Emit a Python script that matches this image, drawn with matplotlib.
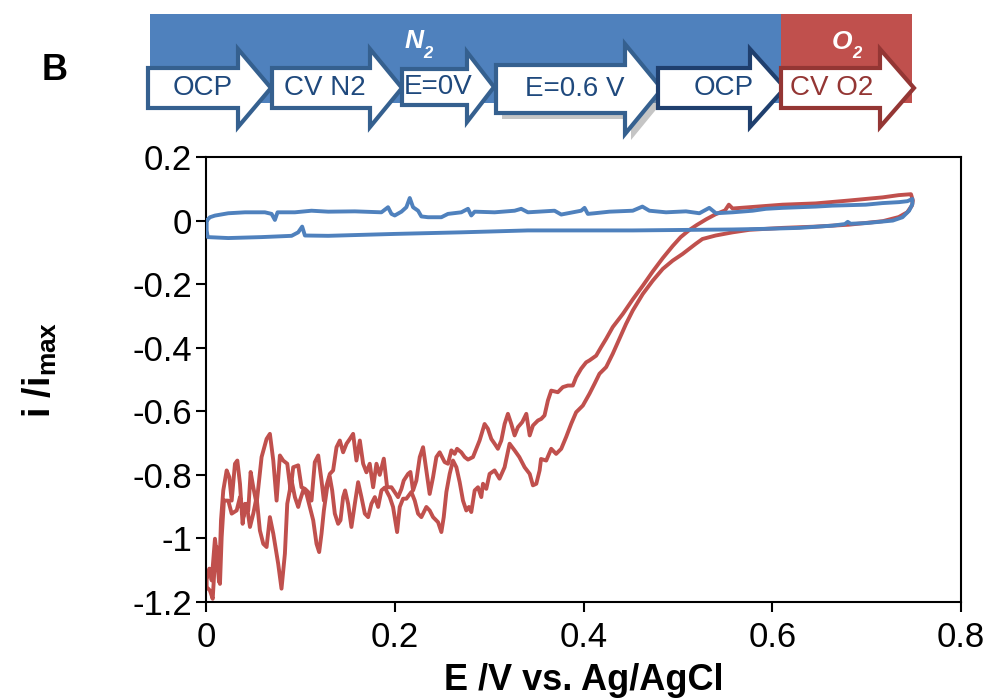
import matplotlib
matplotlib.use("Agg")
import matplotlib.pyplot as plt
from matplotlib.patches import Polygon, Rectangle
import numpy as np

plt.rcParams['font.family'] = ['Liberation Sans', 'DejaVu Sans']
plt.rcParams['axes.unicode_minus'] = False
plt.rcParams['mathtext.fontset'] = 'custom'
plt.rcParams['mathtext.rm'] = 'Liberation Sans'
plt.rcParams['mathtext.bf'] = 'Liberation Sans:bold'
plt.rcParams['mathtext.it'] = 'Liberation Sans:italic'

# ---- data (E in V vs Ag/AgCl, i / i_max) ----
# O2 CV, forward branch (left -> right)
red_fwd_E = [0.0007, 0.0035, 0.006, 0.0095, 0.012, 0.0138, 0.0159, 0.0183, 0.0219, 0.0247,
             0.0272, 0.0307, 0.0332, 0.036, 0.0388, 0.0413, 0.0448, 0.0473, 0.0501, 0.0536,
             0.0589, 0.0642, 0.0677, 0.0713, 0.0748, 0.0783, 0.0818, 0.0861, 0.0896, 0.0924,
             0.0977, 0.1012, 0.1048, 0.1083, 0.1118, 0.1153, 0.1189, 0.1224, 0.1249, 0.1277,
             0.1312, 0.1347, 0.1383, 0.1418, 0.1453, 0.1489, 0.1524, 0.1559, 0.1594, 0.163,
             0.1665, 0.170, 0.1735, 0.1771, 0.1806, 0.1841, 0.1884, 0.1919, 0.1965, 0.2035,
             0.2071, 0.2095, 0.2141, 0.2166, 0.2194, 0.2229, 0.2265, 0.23, 0.2342, 0.237,
             0.2406, 0.2441, 0.2476, 0.2529, 0.2564, 0.26, 0.2635, 0.266, 0.2705, 0.2741,
             0.2776, 0.2829, 0.2864, 0.2899, 0.2952, 0.2987, 0.3023, 0.3058, 0.3093, 0.3129,
             0.3164, 0.3199, 0.3235, 0.327, 0.3305, 0.3351, 0.3394, 0.343, 0.3464, 0.3517,
             0.3552, 0.3587, 0.3623, 0.3658, 0.3728, 0.3781, 0.3834, 0.3887, 0.3922, 0.3975,
             0.4028, 0.4063, 0.4134, 0.4187, 0.424, 0.431, 0.4416, 0.4522, 0.4628, 0.4734,
             0.484, 0.4945, 0.503, 0.512, 0.520, 0.530, 0.540, 0.550, 0.554, 0.558,
             0.576, 0.611, 0.646, 0.681, 0.717, 0.734, 0.747]
red_fwd_i = [-1.122, -1.095, -1.132, -1.001, -1.069, -1.137, -0.943, -0.849, -0.786, -0.807,
             -0.881, -0.765, -0.755, -0.828, -0.954, -0.891, -0.912, -0.791, -0.839, -0.891,
             -0.744, -0.687, -0.671, -0.755, -0.881, -0.739, -0.755, -0.765, -0.849, -0.776,
             -0.770, -0.839, -0.844, -0.854, -0.881, -0.760, -0.739, -0.818, -0.881, -0.834,
             -0.797, -0.786, -0.713, -0.692, -0.729, -0.702, -0.687, -0.671, -0.755, -0.692,
             -0.765, -0.792, -0.765, -0.839, -0.765, -0.800, -0.749, -0.839, -0.839, -0.870,
             -0.844, -0.818, -0.797, -0.791, -0.849, -0.818, -0.744, -0.713, -0.802, -0.860,
             -0.807, -0.744, -0.729, -0.760, -0.765, -0.723, -0.734, -0.718, -0.729, -0.744,
             -0.752, -0.744, -0.718, -0.692, -0.640, -0.655, -0.687, -0.702, -0.718, -0.692,
             -0.640, -0.608, -0.640, -0.676, -0.650, -0.634, -0.608, -0.676, -0.645, -0.629,
             -0.624, -0.613, -0.566, -0.535, -0.540, -0.524, -0.519, -0.519, -0.493, -0.466,
             -0.446, -0.440, -0.425, -0.398, -0.372, -0.335, -0.294, -0.248, -0.205, -0.160,
             -0.118, -0.080, -0.052, -0.030, -0.014, 0.004, 0.020, 0.032, 0.050, 0.038,
             0.042, 0.050, 0.054, 0.063, 0.073, 0.080, 0.083]

# O2 CV, return branch (right -> left)
red_rev_E = [0.749, 0.748, 0.743, 0.734, 0.717, 0.681, 0.646, 0.611, 0.576, 0.558,
             0.540, 0.526, 0.519, 0.505, 0.4945, 0.484, 0.4734, 0.4628, 0.4522, 0.4451,
             0.4381, 0.431, 0.424, 0.4169, 0.4116, 0.4063, 0.3993, 0.3922, 0.387, 0.3816,
             0.3764, 0.371, 0.3658, 0.3605, 0.355, 0.3535, 0.35, 0.3464, 0.343, 0.3376,
             0.332, 0.327, 0.3217, 0.3164, 0.311, 0.3058, 0.3005, 0.297, 0.2935, 0.2917,
             0.2882, 0.2847, 0.2811, 0.2786, 0.2758, 0.2723, 0.2688, 0.2653, 0.2617, 0.2582,
             0.2547, 0.2519, 0.2494, 0.2459, 0.2406, 0.237, 0.2335, 0.2282, 0.2247, 0.2212,
             0.2176, 0.2123, 0.2088, 0.2053, 0.2025, 0.1982, 0.1947, 0.1894, 0.1859, 0.1824,
             0.1789, 0.1753, 0.1718, 0.1683, 0.1647, 0.1612, 0.1577, 0.1541, 0.1506, 0.1474,
             0.1453, 0.1425, 0.1400, 0.1365, 0.1337, 0.1312, 0.1284, 0.1249, 0.1224, 0.1199,
             0.1171, 0.1136, 0.1100, 0.1065, 0.1030, 0.0995, 0.0977, 0.0942, 0.0907, 0.0861,
             0.0836, 0.0800, 0.0765, 0.0713, 0.0677, 0.0642, 0.0607, 0.0571, 0.0536, 0.0501,
             0.0466, 0.0430, 0.0395, 0.0360, 0.0325, 0.0272, 0.0236, 0.0190, 0.0166, 0.0148,
             0.0130, 0.0113, 0.0095, 0.0071, 0.0042, 0.0007]
red_rev_i = [0.063, 0.047, 0.026, 0.011, -0.002, -0.013, -0.019, -0.023, -0.029, -0.037,
             -0.047, -0.058, -0.073, -0.105, -0.126, -0.152, -0.189, -0.231, -0.283, -0.325,
             -0.372, -0.419, -0.461, -0.482, -0.514, -0.545, -0.582, -0.603, -0.639, -0.681,
             -0.718, -0.734, -0.718, -0.755, -0.750, -0.786, -0.828, -0.833, -0.797, -0.776,
             -0.744, -0.723, -0.702, -0.776, -0.812, -0.786, -0.797, -0.844, -0.828, -0.870,
             -0.839, -0.849, -0.917, -0.901, -0.912, -0.881, -0.823, -0.776, -0.755, -0.797,
             -0.854, -0.933, -0.980, -0.949, -0.933, -0.912, -0.901, -0.933, -0.922, -0.881,
             -0.854, -0.875, -0.875, -0.901, -0.980, -0.901, -0.870, -0.840, -0.849, -0.901,
             -0.870, -0.891, -0.933, -0.922, -0.870, -0.823, -0.891, -0.964, -0.891, -0.849,
             -0.870, -0.943, -0.954, -0.922, -0.849, -0.807, -0.839, -0.912, -0.985, -1.043,
             -1.017, -0.943, -0.901, -0.860, -0.849, -0.881, -0.901, -0.870, -0.818, -0.891,
             -1.048, -1.158, -1.080, -0.985, -0.933, -1.027, -1.017, -0.975, -0.870, -0.922,
             -0.964, -0.891, -0.933, -0.870, -0.912, -0.922, -0.881, -0.881, -0.996, -1.143,
             -1.069, -1.027, -1.069, -1.190, -1.164, -1.153]

# N2 CV, forward branch (left -> right)
blue_fwd_E = [0.0007, 0.0042, 0.0095, 0.0236, 0.0413, 0.0624, 0.0695, 0.073, 0.0758, 0.0942,
              0.1118, 0.1295, 0.1577, 0.1859, 0.1929, 0.1965, 0.2, 0.2071, 0.2123, 0.2159,
              0.2194, 0.2247, 0.2282, 0.2353, 0.2494, 0.2564, 0.2705, 0.2776, 0.2811, 0.2847,
              0.3058, 0.327, 0.334, 0.3411, 0.3693, 0.3764, 0.3975, 0.4011, 0.4046, 0.4116,
              0.4275, 0.4522, 0.4624, 0.4698, 0.4875, 0.5086, 0.5228, 0.5333, 0.5404, 0.558,
              0.5792, 0.5933, 0.6109, 0.6286, 0.6462, 0.6638, 0.6991, 0.7168, 0.7344, 0.7432,
              0.7485]
blue_fwd_i = [0.0, 0.0105, 0.0157, 0.023, 0.026, 0.026, 0.021, 0.002, 0.026, 0.026,
              0.031, 0.028, 0.029, 0.026, 0.042, 0.021, 0.016, 0.028, 0.042, 0.071,
              0.042, 0.031, 0.013, 0.0105, 0.0105, 0.021, 0.026, 0.037, 0.016, 0.028,
              0.026, 0.031, 0.037, 0.026, 0.031, 0.019, 0.031, 0.040, 0.021, 0.023,
              0.028, 0.031, 0.044, 0.031, 0.026, 0.029, 0.023, 0.040, 0.023, 0.026,
              0.031, 0.037, 0.040, 0.042, 0.044, 0.047, 0.050, 0.055, 0.058, 0.061,
              0.068]

# N2 CV, return branch (right -> left)
blue_rev_E = [0.7485, 0.745, 0.738, 0.7277, 0.6991, 0.683, 0.680, 0.677, 0.6638, 0.6286,
              0.5933, 0.558, 0.5228, 0.4522, 0.3817, 0.3411, 0.2705, 0.2, 0.1295, 0.1048,
              0.1019, 0.0977, 0.0907, 0.0589, 0.0236, 0.0018, 0.0007, 0.0007]
blue_rev_i = [0.052, 0.031, 0.0105, 0.0, -0.008, -0.010, -0.004, -0.011, -0.016, -0.023,
              -0.026, -0.028, -0.029, -0.031, -0.031, -0.031, -0.037, -0.042, -0.048, -0.047,
              -0.019, -0.037, -0.048, -0.052, -0.055, -0.052, -0.031, 0.0]

x_ticks = [0, 0.2, 0.4, 0.6, 0.8]
x_tick_labels = ["0", "0.2", "0.4", "0.6", "0.8"]
y_ticks = [0.2, 0, -0.2, -0.4, -0.6, -0.8, -1.0, -1.2]
y_tick_labels = ["0.2", "0", "-0.2", "-0.4", "-0.6", "-0.8", "-1", "-1.2"]

steps = ["OCP", "CV N2", "E=0V", "E=0.6 V", "OCP", "CV O2"]

BLUE = "#4F81BD"
RED = "#C0504D"

W, H = 990, 700
fig = plt.figure(figsize=(W / 100, H / 100), dpi=100)

# ---- main plot ----
ax = fig.add_axes([206 / W, 1 - 602 / H, (961 - 206) / W, (602 - 157) / H])
ax.plot(blue_fwd_E + blue_rev_E, blue_fwd_i + blue_rev_i, color=BLUE, lw=2.8,
        solid_joinstyle="round", zorder=3)
ax.plot(red_fwd_E + red_rev_E + red_fwd_E[:1], red_fwd_i + red_rev_i + red_fwd_i[:1],
        color=RED, lw=2.8, solid_joinstyle="round", zorder=2)

ax.set_xlim(0, 0.8)
ax.set_ylim(-1.2, 0.2)
ax.set_xticks(x_ticks)
ax.set_xticklabels(x_tick_labels)
ax.set_yticks(y_ticks)
ax.set_yticklabels(y_tick_labels)
ax.tick_params(direction="out", length=7, width=1.5, labelsize=25, pad=3)
ax.tick_params(axis="x", pad=7)
for s in ax.spines.values():
    s.set_linewidth(1.5)

fig.text(584 / W, 1 - 681 / H, "E /V vs. Ag/AgCl", ha="center", va="center",
         fontsize=26, fontweight="bold")
fig.text(40 / W, 1 - 370 / H, r"$\mathbf{i\ /i_{max}}$", ha="center", va="center",
         rotation=90, fontsize=27)

fig.text(55 / W, 1 - 70 / H, "B", ha="center", va="center", fontsize=26, fontweight="bold")

# ---- protocol banner ----
bax = fig.add_axes([0, 0, 1, 1])
bax.set_xlim(0, W)
bax.set_ylim(H, 0)
bax.axis("off")
bax.add_patch(Rectangle((150, 14), 631, 89, facecolor=BLUE, edgecolor="none"))
bax.add_patch(Rectangle((781, 14), 131, 89, facecolor=RED, edgecolor="none"))

# x0, head base, tip, centre y, body half height, head half height
geom = [(148, 238, 271, 88, 20, 39),
        (272, 370, 402, 88, 20, 39),
        (402, 467, 494, 87, 18, 35),
        (496, 625, 662, 89, 24, 45),
        (658, 750, 785, 88, 20, 39),
        (781, 880, 914, 88, 20, 39)]
edge_cols = ["#35608F", "#35608F", "#35608F", "#35608F", "#1F3F6E", "#943634"]
text_cols = ["#1F497D"] * 5 + ["#943634"]
text_x = [203, 325, 438, 575, 724, 832]

def arrow_pts(x0, xb, xt, yc, hb, hh):
    return [(x0, yc - hb), (xb, yc - hb), (xb, yc - hh), (xt, yc),
            (xb, yc + hh), (xb, yc + hb), (x0, yc + hb)]

for k, (lab, g) in enumerate(zip(steps, geom)):
    pts = arrow_pts(*g)
    if k == 3:
        sh = [(x + 6, y + 6) for x, y in pts]
        bax.add_patch(Polygon(sh, closed=True, facecolor="#8C8C8C", edgecolor="none",
                              alpha=0.5))
    bax.add_patch(Polygon(pts, closed=True, facecolor="white", edgecolor=edge_cols[k],
                          lw=3, joinstyle="miter"))
    bax.text(text_x[k], g[3], lab, ha="center", va="center", fontsize=20,
             color=text_cols[k])

bax.text(414, 41, "N", ha="center", va="center", fontsize=19, fontweight="bold",
         style="italic", color="white")
bax.text(428, 53, "2", ha="center", va="center", fontsize=12, fontweight="bold",
         style="italic", color="white")
bax.text(842, 42, "O", ha="center", va="center", fontsize=19, fontweight="bold",
         style="italic", color="white")
bax.text(857, 54, "2", ha="center", va="center", fontsize=12, fontweight="bold",
         style="italic", color="white")

fig.savefig("out.png", dpi=100)
